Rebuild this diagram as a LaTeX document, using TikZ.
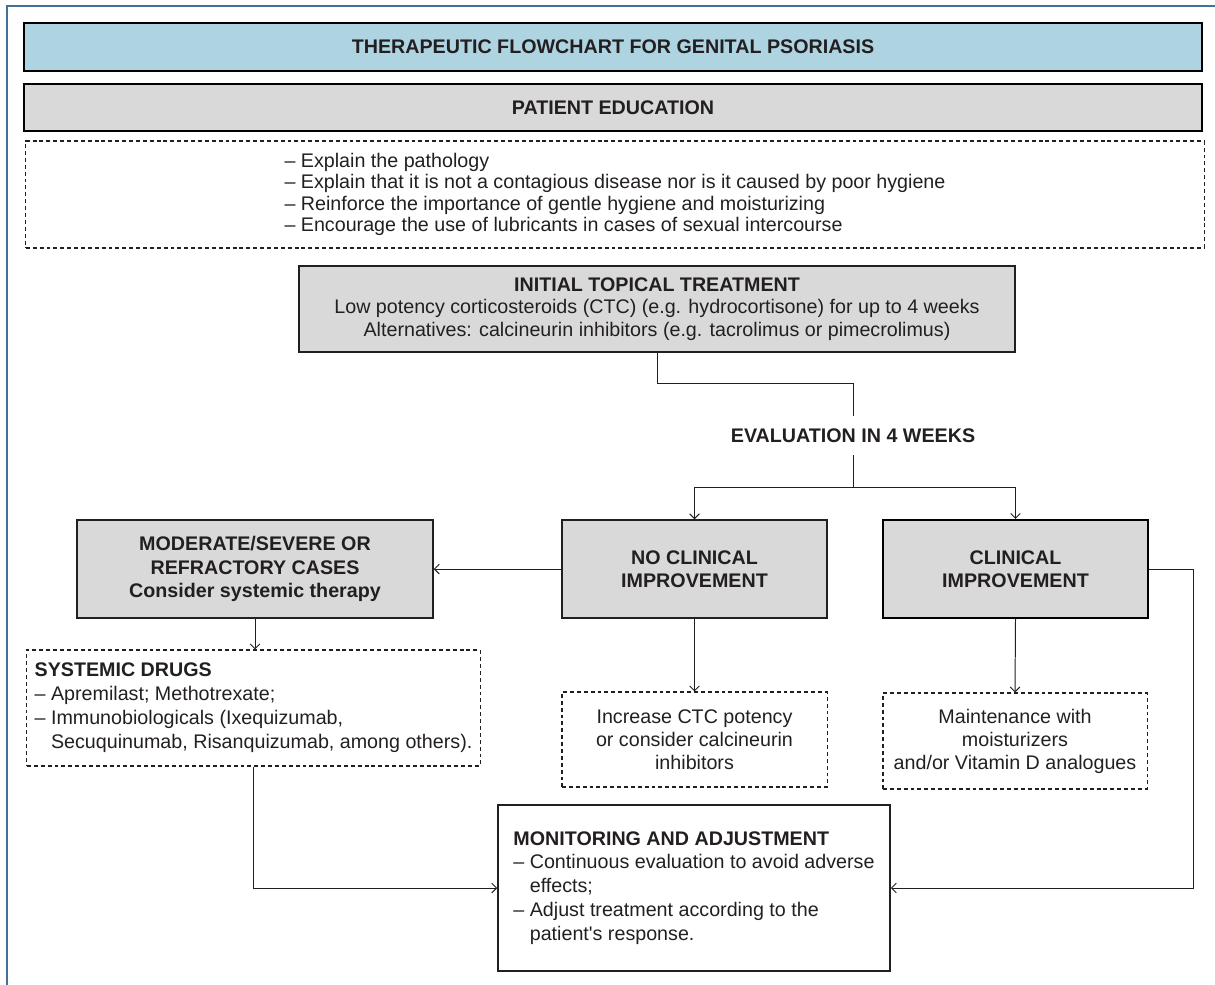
\documentclass[tikz,border=0pt]{standalone}
\usepackage{fontspec}
\setmainfont{Liberation Sans}
\usetikzlibrary{arrows.meta, positioning}
\definecolor{headblue}{RGB}{174,212,225}
\definecolor{boxgray}{RGB}{217,217,217}
\definecolor{framebl}{RGB}{70,112,150}
\definecolor{inkdark}{RGB}{35,31,32}

\begin{document}
\begin{tikzpicture}[x=0.025cm, y=-0.025cm,
  every node/.style={font=\fontsize{14}{16.5}\selectfont, text=inkdark},
  bandbox/.style={draw=black, line width=1pt, minimum width=29.45cm, font=\fontsize{14}{16.5}\selectfont\bfseries},
  graybox/.style={draw=inkdark, line width=1pt, fill=boxgray, align=center, minimum height=2.45cm, font=\fontsize{14}{16.5}\selectfont\bfseries},
  dashbox/.style={draw=inkdark, dash pattern=on 2.8pt off 2.1pt, line width=0.75pt, align=center},
  link/.style={draw=inkdark, line width=0.7pt},
  arr/.style={link, -{Straight Barb[length=1.2mm, width=2.4mm]}}]
  \useasboundingbox (0,0) rectangle (1215,985);
  \draw[framebl, line width=0.9pt] (7,985) -- (7,6) -- (1215,6);

  \node[bandbox, fill=headblue, minimum height=1.2cm] (title) at (613,47) {THERAPEUTIC FLOWCHART FOR GENITAL PSORIASIS};
  \node[bandbox, fill=boxgray, minimum height=1.175cm] (educ) at (613,107.5) {PATIENT EDUCATION};
  \node[dashbox, align=left, minimum width=29.45cm, minimum height=2.675cm, font=\fontsize{14}{15.1}\selectfont] (tips) at (615,194.5)
    {-- Explain the pathology\\
     -- Explain that it is not a contagious disease nor is it caused by poor hygiene\\
     -- Reinforce the importance of gentle hygiene and moisturizing\\
     -- Encourage the use of lubricants in cases of sexual intercourse};

  \node[graybox, minimum width=17.9cm, minimum height=2.15cm, font=\fontsize{14}{16}\selectfont] (init) at (657,309)
    {\textbf{INITIAL TOPICAL TREATMENT}\\
     Low potency corticosteroids (CTC) (e.g. hydrocortisone) for up to 4 weeks\\
     Alternatives: calcineurin inhibitors (e.g. tacrolimus or pimecrolimus)};
  \node[font=\fontsize{14}{16}\selectfont\bfseries, minimum height=0.975cm, inner sep=0pt] (eval) at (853,435.5) {EVALUATION IN 4 WEEKS};

  \node[graybox, minimum width=8.9cm] (mod) at (255,569) {MODERATE/SEVERE OR\\REFRACTORY CASES\\Consider systemic therapy};
  \node[graybox, minimum width=6.625cm] (noclin) at (694.5,569) {NO CLINICAL\\IMPROVEMENT};
  \node[graybox, draw=black, line width=1.5pt, minimum width=6.625cm] (clin) at (1015.5,569) {CLINICAL\\IMPROVEMENT};

  \node[dashbox, align=left, inner xsep=1.5pt, minimum width=11.325cm, minimum height=2.9cm, font=\fontsize{14}{17}\selectfont] (drugs) at (253.5,708)
    {\textbf{SYSTEMIC DRUGS}\\
     -- Apremilast; Methotrexate;\\
     -- Immunobiologicals (Ixequizumab,\\
     \phantom{-- }Secuquinumab, Risanquizumab, among others).};
  \node[dashbox, minimum width=6.625cm, minimum height=2.375cm, font=\fontsize{14}{16.3}\selectfont] (incr) at (694.5,739.5)
    {Increase CTC potency\\or consider calcineurin\\inhibitors};
  \node[dashbox, minimum width=6.6cm, minimum height=2.4cm, font=\fontsize{14}{16.3}\selectfont] (maint) at (1015,741)
    {Maintenance with\\moisturizers\\and/or Vitamin D analogues};

  \node[draw=inkdark, line width=1pt, align=left, minimum width=9.8cm, minimum height=4.15cm, font=\fontsize{14}{17}\selectfont] (monit) at (694,888)
    {\textbf{MONITORING AND ADJUSTMENT}\\
     -- Continuous evaluation to avoid adverse\\
     \phantom{-- }effects;\\
     -- Adjust treatment according to the\\
     \phantom{-- }patient\textquotesingle s response.};

  \draw[link] (init.south) -- ++(0,31) -| (eval.north);
  \draw[arr] (eval.south) -- ++(0,32.5) -| (noclin.north);
  \draw[arr] (eval.south) -- ++(0,32.5) -| (clin.north);
  \draw[arr] (noclin.west) -- (mod.east);
  \draw[arr] (mod.south) -- (mod.south |- drugs.north);
  \draw[arr] (noclin.south) -- (incr.north);
  \draw[arr] (clin.south) -- (maint.north);
  \draw[arr] (drugs.south) |- (monit.west);
  \draw[arr] (clin.east) -- ++(44,0) |- (monit.east);
\end{tikzpicture}
\end{document}
